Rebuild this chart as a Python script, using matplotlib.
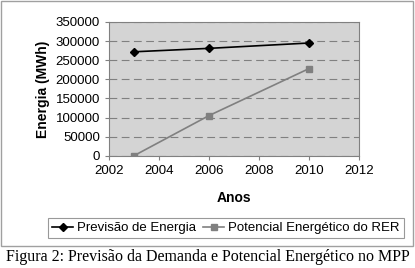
import matplotlib.pyplot as plt
from matplotlib.patches import Rectangle

anos = [2003, 2006, 2010]
previsao = [272000, 281000, 295000]
potencial = [0, 105000, 228000]

plt.rcParams['font.family'] = ['Liberation Sans', 'DejaVu Sans']

fig = plt.figure(figsize=(4.15, 2.68), dpi=100)
fig.patches.append(Rectangle((1 / 415, 22 / 268), 412 / 415, 245 / 268, transform=fig.transFigure,
                             fill=False, edgecolor='#a0a0a0', linewidth=1))

ax = fig.add_axes([109 / 415, 112.3 / 268, 250 / 415, 133.7 / 268])
ax.set_facecolor('#d4d4d4')
l1, = ax.plot(anos, previsao, color='black', marker='D', markersize=4, linewidth=1.2,
              label='Previsão de Energia')
l2, = ax.plot(anos, potencial, color='#808080', marker='s', markersize=5, linewidth=1.2,
              label='Potencial Energético do RER')

ax.set_xlim(2002, 2012)
ax.set_ylim(0, 350000)
ax.set_xticks(range(2002, 2013, 2))
ax.set_yticks(range(0, 350001, 50000))
ax.yaxis.grid(True, linestyle=(0, (7, 4)), color='#808080', linewidth=0.8)
ax.set_axisbelow(True)
for s in ax.spines.values():
    s.set_color('#808080')
    s.set_linewidth(0.8)
ax.tick_params(labelsize=9.5, length=3, color='#808080', width=0.8)
ax.set_xlabel('Anos', fontsize=10, fontweight='bold', labelpad=10)
ax.set_ylabel('Energia (MWh)', fontsize=10, fontweight='bold', labelpad=4)

leg = fig.legend(handles=[l1, l2], loc='center', bbox_to_anchor=(226 / 415, 40 / 268), ncol=2,
                 fontsize=9.5, frameon=True, fancybox=False, edgecolor='#808080',
                 handlelength=1.6, handletextpad=0.3, columnspacing=0.5, borderpad=0.3,
                 borderaxespad=0)
leg.get_frame().set_linewidth(0.8)

fig.text(0.5, 11 / 268, 'Figura 2: Previsão da Demanda e Potencial Energético no MPP',
         ha='center', va='center', fontsize=11.5, family='Liberation Serif')

fig.savefig('out.png', dpi=100)
